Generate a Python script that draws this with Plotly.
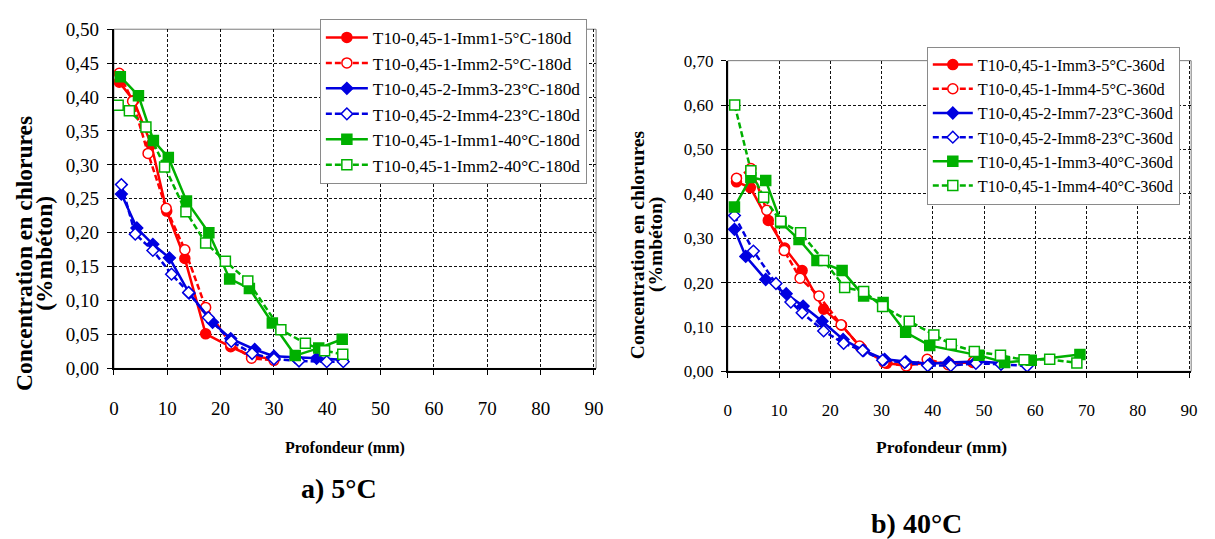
import plotly.graph_objects as go

W, H = 1215, 539

# ---------------- data : a) 5°C (180 days) ----------------
a_names = ["T10-0,45-1-Imm1-5°C-180d", "T10-0,45-1-Imm2-5°C-180d",
           "T10-0,45-2-Imm3-23°C-180d", "T10-0,45-2-Imm4-23°C-180d",
           "T10-0,45-1-Imm1-40°C-180d", "T10-0,45-1-Imm2-40°C-180d"]
a_red1_x = [1.0, 3.7, 7.0, 9.9, 13.3, 17.2, 21.9, 25.8, 30.0]
a_red1_y = [0.422, 0.395, 0.330, 0.232, 0.162, 0.051, 0.032, 0.018, 0.014]
a_red2_x = [1.0, 3.5, 6.4, 9.8, 13.3, 17.2, 21.9, 25.8, 30.0]
a_red2_y = [0.435, 0.394, 0.317, 0.236, 0.175, 0.090, 0.036, 0.015, 0.012]
a_blue3_x = [1.4, 4.3, 7.3, 10.4, 14.1, 18.5, 21.9, 26.4, 30.0, 34.0, 38.0, 42.8]
a_blue3_y = [0.257, 0.207, 0.183, 0.163, 0.111, 0.068, 0.044, 0.028, 0.018, 0.016, 0.015, 0.013]
a_blue4_x = [1.4, 4.0, 7.3, 10.8, 14.0, 17.7, 22.0, 25.9, 30.0, 34.7, 39.9, 43.0]
a_blue4_y = [0.271, 0.198, 0.174, 0.139, 0.112, 0.075, 0.040, 0.022, 0.014, 0.011, 0.010, 0.010]
a_green1_x = [1.2, 4.6, 7.4, 10.2, 13.6, 17.8, 21.7, 25.4, 29.7, 34.0, 38.4, 42.8]
a_green1_y = [0.430, 0.402, 0.336, 0.311, 0.247, 0.200, 0.132, 0.118, 0.067, 0.019, 0.030, 0.043]
a_green2_x = [0.8, 2.9, 6.0, 9.5, 13.5, 17.2, 20.9, 25.1, 31.3, 35.9, 39.5, 42.9]
a_green2_y = [0.388, 0.380, 0.356, 0.297, 0.231, 0.185, 0.158, 0.129, 0.057, 0.037, 0.026, 0.021]

# ---------------- data : b) 40°C (360 days) ----------------
b_names = ["T10-0,45-1-Imm3-5°C-360d", "T10-0,45-1-Imm4-5°C-360d",
           "T10-0,45-2-Imm7-23°C-360d", "T10-0,45-2-Imm8-23°C-360d",
           "T10-0,45-1-Imm3-40°C-360d", "T10-0,45-1-Imm4-40°C-360d"]
b_red3_x = [1.7, 4.4, 7.9, 11.1, 14.5, 18.7, 22.2, 26.1, 31.0, 34.9, 39.0, 43.2, 47.8]
b_red3_y = [0.427, 0.414, 0.340, 0.278, 0.227, 0.140, 0.104, 0.052, 0.018, 0.013, 0.020, 0.018, 0.020]
b_red4_x = [1.7, 4.5, 7.6, 11.0, 14.1, 17.8, 22.1, 25.7, 30.5, 34.8, 38.9, 43.0, 48.0]
b_red4_y = [0.435, 0.457, 0.363, 0.272, 0.210, 0.170, 0.105, 0.057, 0.020, 0.012, 0.027, 0.015, 0.022]
b_blue7_x = [1.3, 3.5, 7.4, 11.4, 14.7, 18.4, 22.5, 26.5, 30.6, 34.7, 39.4, 43.1, 48.4, 53.5]
b_blue7_y = [0.320, 0.259, 0.207, 0.175, 0.147, 0.113, 0.072, 0.047, 0.027, 0.022, 0.017, 0.020, 0.022, 0.019]
b_blue8_x = [1.3, 5.0, 9.4, 12.3, 14.5, 18.7, 22.6, 26.3, 30.2, 34.5, 39.0, 43.5, 48.4, 53.3, 58.4]
b_blue8_y = [0.351, 0.271, 0.198, 0.156, 0.132, 0.091, 0.063, 0.047, 0.025, 0.020, 0.013, 0.013, 0.018, 0.016, 0.012]
b_green3_x = [1.3, 4.5, 7.4, 10.4, 13.9, 17.4, 22.3, 26.5, 30.3, 34.7, 39.4, 49.0, 54.0, 59.2, 68.7]
b_green3_y = [0.370, 0.437, 0.430, 0.335, 0.297, 0.250, 0.227, 0.170, 0.155, 0.088, 0.058, 0.036, 0.020, 0.025, 0.038]
b_green4_x = [1.35, 4.5, 7.0, 10.3, 14.2, 18.7, 22.8, 26.5, 30.2, 35.4, 40.2, 43.6, 48.1, 53.2, 57.8, 62.8, 68.1]
b_green4_y = [0.600, 0.452, 0.392, 0.338, 0.312, 0.250, 0.189, 0.180, 0.146, 0.113, 0.082, 0.061, 0.045, 0.036, 0.026, 0.027, 0.019]

x_ticks = [0, 10, 20, 30, 40, 50, 60, 70, 80, 90]
a_y_ticks = [0.0, 0.05, 0.10, 0.15, 0.20, 0.25, 0.30, 0.35, 0.40, 0.45, 0.50]
b_y_ticks = [0.0, 0.10, 0.20, 0.30, 0.40, 0.50, 0.60, 0.70]

RED, BLUE, GREEN = "#ff0000", "#0000e0", "#00b000"
FONT = "Liberation Serif"

styles = [
    (RED, "circle", True, "solid"),
    (RED, "circle", False, "6px,3px"),
    (BLUE, "diamond", True, "solid"),
    (BLUE, "diamond", False, "6px,3px"),
    (GREEN, "square", True, "solid"),
    (GREEN, "square", False, "6px,3px"),
]

fig = go.Figure()

a_series = [(a_red1_x, a_red1_y), (a_red2_x, a_red2_y), (a_blue3_x, a_blue3_y),
            (a_blue4_x, a_blue4_y), (a_green1_x, a_green1_y), (a_green2_x, a_green2_y)]
b_series = [(b_red3_x, b_red3_y), (b_red4_x, b_red4_y), (b_blue7_x, b_blue7_y),
            (b_blue8_x, b_blue8_y), (b_green3_x, b_green3_y), (b_green4_x, b_green4_y)]


def add(series, names, xa, ya, leg, msize):
    for (xs, ys), name, (col, sym, filled, dash) in zip(series, names, styles):
        sz = msize - 1 if sym == "diamond" else msize
        fig.add_trace(go.Scatter(
            x=xs, y=ys, name=name, mode="lines+markers",
            xaxis=xa, yaxis=ya, legend=leg,
            line=dict(color=col, width=2.5, dash=dash),
            marker=dict(symbol=sym, size=sz,
                        color=col if filled else "white",
                        line=dict(color=col, width=1.5)),
        ))


add(a_series, a_names, "x", "y", "legend", 10)
add(b_series, b_names, "x2", "y2", "legend2", 10)


def xaxis(dom, anchor, fs):
    return dict(domain=dom, anchor=anchor, range=[0, 90.4], tickvals=x_ticks,
                showgrid=True, gridcolor="#111111", griddash="3px,2px", gridwidth=1,
                showline=True, linecolor="black", linewidth=2,
                ticks="outside", ticklen=5, tickcolor="black",
                ticklabelstandoff=17,
                tickfont=dict(family=FONT, size=fs, color="black"),
                zeroline=False)


def yaxis(dom, anchor, rng, ticks, fs):
    return dict(domain=dom, anchor=anchor, range=rng, tickvals=ticks,
                tickformat=".2f",
                showgrid=True, gridcolor="#111111", griddash="3px,2px", gridwidth=1,
                showline=True, linecolor="black", linewidth=2,
                ticks="outside", ticklen=5, tickcolor="black",
                ticklabelstandoff=4,
                tickfont=dict(family=FONT, size=fs, color="black"),
                zeroline=False)


a_xdom = [110 / W, 597 / W]
a_ydom = [1 - 373 / H, 1 - 20 / H]
b_xdom = [730 / W, 1198 / W]
b_ydom = [1 - 376 / H, 1 - 52.7 / H]

fig.update_layout(
    width=W, height=H, margin=dict(l=0, r=0, t=0, b=0),
    paper_bgcolor="white", plot_bgcolor="white",
    separators=", ",
    font=dict(family=FONT, color="black"),
    xaxis=xaxis(a_xdom, "y", 19),
    yaxis=yaxis(a_ydom, "x", [0, 0.5], a_y_ticks, 19),
    xaxis2=xaxis(b_xdom, "y2", 17),
    yaxis2=yaxis(b_ydom, "x2", [0, 0.7], b_y_ticks, 17),
    legend=dict(x=318 / W, y=1 - 9 / H, xanchor="left", yanchor="top",
                bgcolor="white", bordercolor="#8a8a8a", borderwidth=1,
                font=dict(family=FONT, size=17.3, color="black"),
                itemwidth=42, tracegroupgap=0),
    legend2=dict(x=931 / W, y=1 - 38 / H, xanchor="left", yanchor="top",
                 bgcolor="white", bordercolor="#8a8a8a", borderwidth=1,
                 font=dict(family=FONT, size=16.3, color="black"),
                 itemwidth=40, tracegroupgap=0),
)

# plot frames (top/right border)
for xr, yr in [("x domain", "y domain"), ("x2 domain", "y2 domain")]:
    fig.add_shape(type="rect", xref=xr, yref=yr, x0=0, x1=1, y0=0, y1=1,
                  line=dict(color="#7a7a7a", width=1), layer="below")

ann = [
    ("<b>Concentration en chlorures</b>", 19, 253, 23.5, -90),
    ("<b>(%mbéton)</b>", 40, 253, 23.5, -90),
    ("<b>Profondeur (mm)</b>", 343, 456, 16, 0),
    ("<b>a) 5°C</b>", 337, 498, 28, 0),
    ("<b>Concentration en chlorures</b>", 639, 244, 19.5, -90),
    ("<b>(%mbéton)</b>", 658, 244, 19.5, -90),
    ("<b>Profondeur (mm)</b>", 946, 455, 17.5, 0),
    ("<b>b) 40°C</b>", 921, 534, 28, 0),
]
for text, px, py, fs, ang in ann:
    fig.add_annotation(text=text, x=px / W, y=1 - py / H, xref="paper", yref="paper",
                       xanchor="center", yanchor="middle", showarrow=False,
                       textangle=ang, font=dict(family=FONT, size=fs, color="black"))

fig.write_html("out.html")
